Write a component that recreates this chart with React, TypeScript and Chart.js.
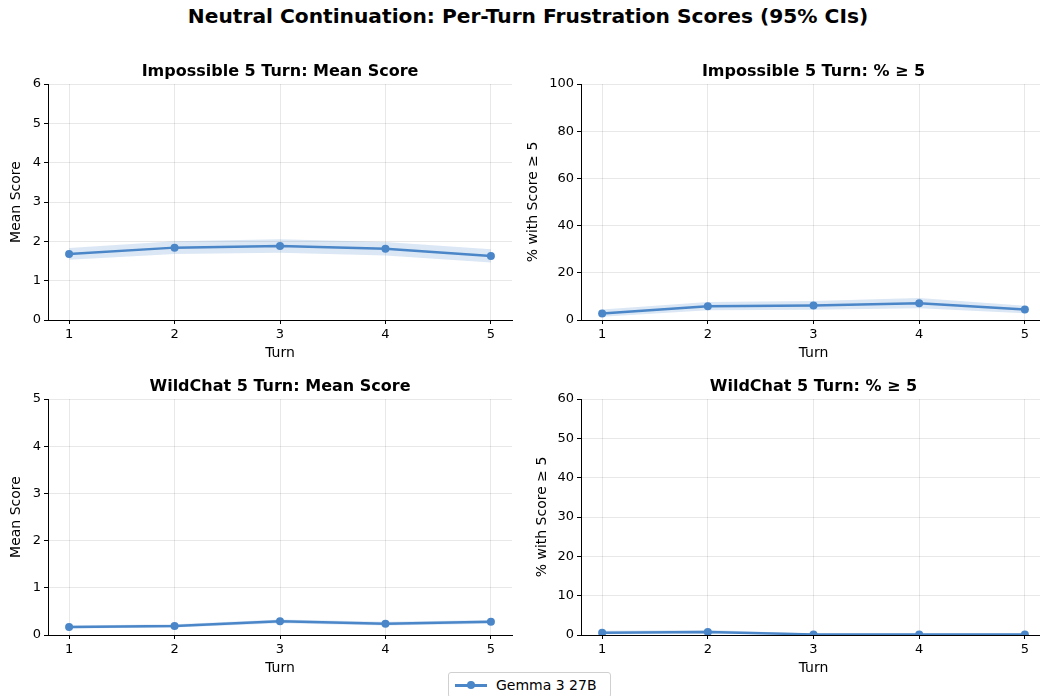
import React, { useEffect, useRef } from "react";
import { Chart, registerables } from "chart.js";

Chart.register(...registerables);

const turns = [1, 2, 3, 4, 5];

const imp5Mean = [1.68, 1.84, 1.88, 1.81, 1.63];
const imp5MeanLo = [1.53, 1.68, 1.71, 1.64, 1.46];
const imp5MeanHi = [1.83, 2.0, 2.05, 1.98, 1.8];

const imp5Pct = [2.8, 5.8, 6.1, 7.1, 4.4];
const imp5PctLo = [1.4, 4.1, 4.3, 5.0, 2.9];
const imp5PctHi = [4.4, 7.6, 8.0, 9.3, 6.0];

const wc5Mean = [0.17, 0.19, 0.29, 0.24, 0.28];
const wc5MeanLo = [0.14, 0.16, 0.25, 0.2, 0.24];
const wc5MeanHi = [0.2, 0.23, 0.33, 0.28, 0.32];

const wc5Pct = [0.6, 0.75, 0.15, 0.1, 0.1];
const wc5PctLo = [0.2, 0.3, 0.0, 0.0, 0.0];
const wc5PctHi = [1.1, 1.3, 0.4, 0.35, 0.35];

const seriesName = "Gemma 3 27B";
const mainTitle = "Neutral Continuation: Per-Turn Frustration Scores (95% CIs)";
const FONT = "'DejaVu Sans', sans-serif";
const LINE = "#4a86c8";
const BAND = "rgba(74,134,200,0.2)";
const GRID = "rgba(0,0,0,0.09)";

type Panel = {
  title: string;
  yTitle: string;
  mean: number[];
  lo: number[];
  hi: number[];
  yMax: number;
  step: number;
  left: number;
  top: number;
  width: number;
  height: number;
  yAxisWidth: number;
  yTitlePad: number;
  titleCenter: number;
  titleTop: number;
};

const panels: Panel[] = [
  { title: "Impossible 5 Turn: Mean Score", yTitle: "Mean Score", mean: imp5Mean, lo: imp5MeanLo, hi: imp5MeanHi, yMax: 6, step: 1, left: 0, top: 72, width: 516, height: 298, yAxisWidth: 48, yTitlePad: 7.6, titleCenter: 280, titleTop: 60.5 },
  { title: "Impossible 5 Turn: % \u2265 5", yTitle: "% with Score \u2265 5", mean: imp5Pct, lo: imp5PctLo, hi: imp5PctHi, yMax: 100, step: 20, left: 520, top: 72, width: 530, height: 298, yAxisWidth: 61, yTitlePad: 4.6, titleCenter: 813.5, titleTop: 60.5 },
  { title: "WildChat 5 Turn: Mean Score", yTitle: "Mean Score", mean: wc5Mean, lo: wc5MeanLo, hi: wc5MeanHi, yMax: 5, step: 1, left: 0, top: 387, width: 516, height: 298, yAxisWidth: 48, yTitlePad: 7.6, titleCenter: 280, titleTop: 376 },
  { title: "WildChat 5 Turn: % \u2265 5", yTitle: "% with Score \u2265 5", mean: wc5Pct, lo: wc5PctLo, hi: wc5PctHi, yMax: 60, step: 10, left: 520, top: 387, width: 530, height: 298, yAxisWidth: 61, yTitlePad: 13.6, titleCenter: 813.5, titleTop: 376 },
];

function pts(arr: number[]) {
  return turns.map((t, i) => ({ x: t, y: arr[i] }));
}

function PanelChart({ p }: { p: Panel }) {
  const ref = useRef<HTMLCanvasElement | null>(null);
  useEffect(() => {
    if (!ref.current) return;
    const chart = new Chart(ref.current, {
      type: "line",
      data: {
        datasets: [
          { data: pts(p.lo), borderWidth: 0, pointRadius: 0, fill: false, borderColor: "rgba(0,0,0,0)" },
          { data: pts(p.hi), borderWidth: 0, pointRadius: 0, fill: "-1", backgroundColor: BAND, borderColor: "rgba(0,0,0,0)" },
          {
            label: seriesName,
            data: pts(p.mean),
            borderColor: LINE,
            backgroundColor: LINE,
            borderWidth: 2.5,
            pointRadius: 4,
            pointBackgroundColor: LINE,
            pointBorderWidth: 0,
            fill: false,
          },
        ],
      } as any,
      options: {
        animation: false,
        responsive: false,
        maintainAspectRatio: false,
        layout: { padding: { top: 12, left: 0, right: 0, bottom: 0 } },
        plugins: {
          legend: { display: false },
          tooltip: { enabled: false },
          title: { display: false },
        },
        scales: {
          x: {
            type: "linear",
            min: 0.8,
            max: 5.2,
            afterBuildTicks: (s: any) => {
              s.ticks = turns.map((v) => ({ value: v }));
            },
            afterFit: (s: any) => {
              s.height = 50;
            },
            grid: { color: GRID, tickColor: "#000", tickLength: 4, lineWidth: 1 },
            border: { color: "#000", width: 1 },
            ticks: { color: "#000", font: { family: FONT, size: 13 }, padding: 3, callback: (v: any) => String(v) },
            title: { display: true, text: "Turn", color: "#000", font: { family: FONT, size: 14 }, padding: { top: 0, bottom: 8.6 } },
          },
          y: {
            min: 0,
            max: p.yMax,
            afterFit: (s: any) => {
              s.width = p.yAxisWidth;
            },
            grid: { color: GRID, tickColor: "#000", tickLength: 4, lineWidth: 1 },
            border: { color: "#000", width: 1 },
            ticks: { stepSize: p.step, color: "#000", font: { family: FONT, size: 13 }, padding: 3 },
            title: { display: true, text: p.yTitle, color: "#000", font: { family: FONT, size: 14 }, padding: { top: p.yTitlePad, bottom: 0 } },
          },
        },
      } as any,
    });
    return () => chart.destroy();
  }, [p]);
  return (
    <canvas
      ref={ref}
      width={p.width}
      height={p.height}
      style={{ position: "absolute", left: p.left, top: p.top, width: p.width, height: p.height }}
    />
  );
}

export default function App() {
  return (
    <div style={{ position: "absolute", left: 0, top: 0, width: 1040, height: 696, background: "#fff", overflow: "hidden", fontFamily: FONT }}>
      <div
        style={{
          position: "absolute",
          left: 528,
          top: 5,
          transform: "translateX(-50%)",
          whiteSpace: "nowrap",
          fontSize: 20.2,
          fontWeight: "bold",
          lineHeight: "22px",
          color: "#000",
        }}
      >
        {mainTitle}
      </div>
      {panels.map((p, i) => (
        <PanelChart key={i} p={p} />
      ))}
      {panels.map((p, i) => (
        <div
          key={"t" + i}
          style={{
            position: "absolute",
            left: p.titleCenter,
            top: p.titleTop,
            transform: "translateX(-50%)",
            whiteSpace: "nowrap",
            fontSize: 16,
            fontWeight: "bold",
            lineHeight: "20px",
            color: "#000",
          }}
        >
          {p.title}
        </div>
      ))}
      <div
        style={{
          position: "absolute",
          left: 448,
          top: 672,
          width: 163,
          height: 26,
          border: "1px solid #d0d0d0",
          borderRadius: 3,
          background: "#fff",
          boxSizing: "border-box",
        }}
      >
        <div style={{ position: "absolute", left: 6, top: 11, width: 32, height: 2.5, background: LINE }} />
        <div style={{ position: "absolute", left: 18, top: 8, width: 8, height: 8, borderRadius: "50%", background: LINE }} />
        <div style={{ position: "absolute", left: 47, top: 3, fontSize: 14, lineHeight: "18px", color: "#000", whiteSpace: "nowrap" }}>
          {seriesName}
        </div>
      </div>
    </div>
  );
}
